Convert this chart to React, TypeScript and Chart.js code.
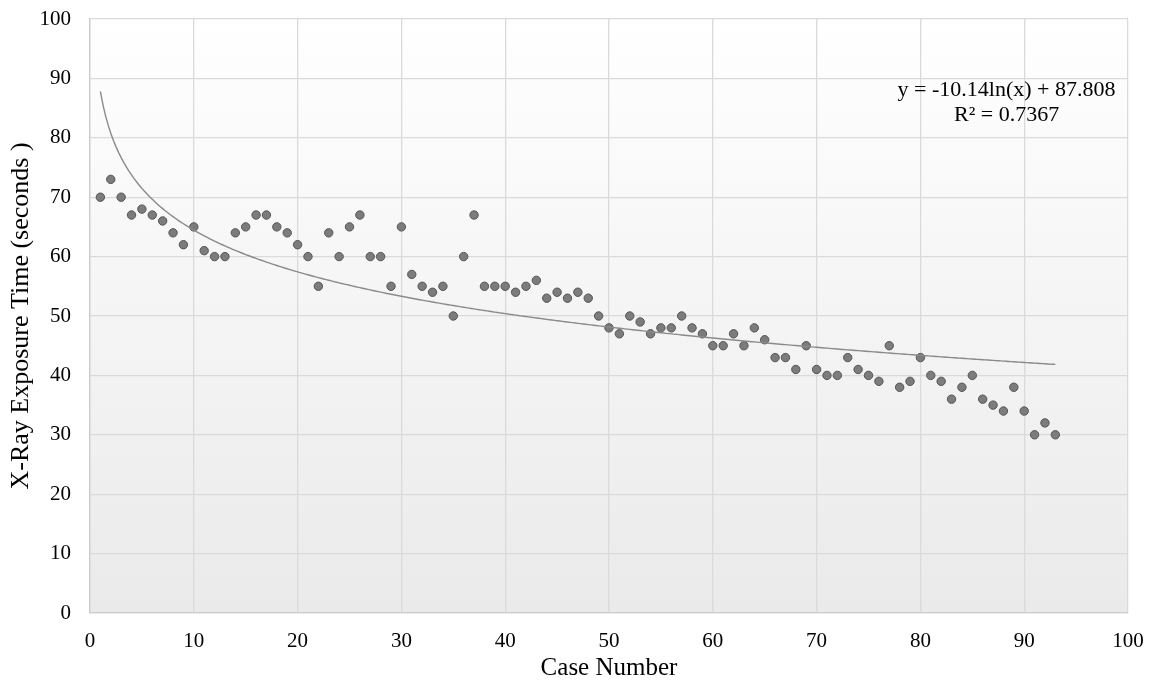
import React, { useEffect, useRef } from "react";
import { Chart, registerables } from "chart.js";

Chart.register(...registerables);

const caseNumbers: number[] = [
  1, 2, 3, 4, 5, 6, 7, 8, 9, 10, 11, 12, 13, 14, 15, 16, 17, 18, 19, 20,
  21, 22, 23, 24, 25, 26, 27, 28, 29, 30, 31, 32, 33, 34, 35, 36, 37, 38, 39, 40,
  41, 42, 43, 44, 45, 46, 47, 48, 49, 50, 51, 52, 53, 54, 55, 56, 57, 58, 59, 60,
  61, 62, 63, 64, 65, 66, 67, 68, 69, 70, 71, 72, 73, 74, 75, 76, 77, 78, 79, 80,
  81, 82, 83, 84, 85, 86, 87, 88, 89, 90, 91, 92, 93,
];

const exposureTimes: number[] = [
  70, 73, 70, 67, 68, 67, 66, 64, 62, 65, 61, 60, 60, 64, 65, 67, 67, 65, 64, 62,
  60, 55, 64, 60, 65, 67, 60, 60, 55, 65, 57, 55, 54, 55, 50, 60, 67, 55, 55, 55,
  54, 55, 56, 53, 54, 53, 54, 53, 50, 48, 47, 50, 49, 47, 48, 48, 50, 48, 47, 45,
  45, 47, 45, 48, 46, 43, 43, 41, 45, 41, 40, 40, 43, 41, 40, 39, 45, 38, 39, 43,
  40, 39, 36, 38, 40, 36, 35, 34, 38, 34, 30, 32, 30,
];

// Trendline from the equation shown on the chart: y = -10.14 ln(x) + 87.808
const trendSlope = -10.14;
const trendIntercept = 87.808;
const trendStart = 1;
const trendEnd = 93;

const equationLines: string[] = ["y = -10.14ln(x) + 87.808", "R² = 0.7367"];

const xTitle = "Case Number";
const yTitle = "X-Ray Exposure Time (seconds )";

const FONT = "'Liberation Serif', 'Times New Roman', serif";

export default function App() {
  const ref = useRef<HTMLCanvasElement | null>(null);

  useEffect(() => {
    const canvas = ref.current;
    if (!canvas) return;

    const scatterData = caseNumbers.map((c, i) => ({ x: c, y: exposureTimes[i] }));
    const trendData: { x: number; y: number }[] = [];
    for (let x = trendStart; x <= trendEnd + 1e-9; x += 0.25) {
      trendData.push({ x, y: trendSlope * Math.log(x) + trendIntercept });
    }

    const bgPlugin = {
      id: "plotBg",
      beforeDraw(chart: any) {
        const { ctx, chartArea } = chart;
        const g = ctx.createLinearGradient(0, chartArea.top, 0, chartArea.bottom);
        g.addColorStop(0, "#ffffff");
        g.addColorStop(1, "#eaeaea");
        ctx.save();
        ctx.fillStyle = "#ffffff";
        ctx.fillRect(0, 0, chart.width, chart.height);
        ctx.fillStyle = g;
        ctx.fillRect(chartArea.left, chartArea.top, chartArea.right - chartArea.left, chartArea.bottom - chartArea.top);
        ctx.restore();
      },
    };

    const eqPlugin = {
      id: "equation",
      afterDraw(chart: any) {
        const { ctx, scales } = chart;
        const cx = scales.x.getPixelForValue(88.3);
        ctx.save();
        ctx.fillStyle = "#000000";
        ctx.font = `22px ${FONT}`;
        ctx.textAlign = "center";
        ctx.textBaseline = "middle";
        ctx.fillText(equationLines[0], cx, scales.y.getPixelForValue(88.0));
        ctx.fillText(equationLines[1], cx, scales.y.getPixelForValue(83.8));
        ctx.restore();
      },
    };

    const chart = new Chart(canvas, {
      type: "scatter",
      data: {
        datasets: [
          {
            type: "line",
            data: trendData,
            borderColor: "#8a8a8a",
            borderWidth: 1.4,
            pointRadius: 0,
            fill: false,
            tension: 0,
          } as any,
          {
            type: "scatter",
            data: scatterData,
            backgroundColor: "#7c7c7c",
            borderColor: "#555555",
            borderWidth: 1,
            pointRadius: 4.2,
          },
        ],
      },
      options: {
        animation: false,
        responsive: false,
        layout: { padding: { top: 19, right: 23, left: 0, bottom: 0 } },
        plugins: {
          legend: { display: false },
          tooltip: { enabled: false },
        },
        scales: {
          x: {
            type: "linear",
            min: 0,
            max: 100,
            ticks: {
              stepSize: 10,
              padding: 16,
              color: "#000000",
              font: { family: FONT, size: 21 },
              maxRotation: 0,
            },
            grid: { color: "#dadada", lineWidth: 1.3, drawTicks: false },
            border: { color: "#cccccc", width: 1.3 },
            title: {
              display: true,
              text: xTitle,
              color: "#000000",
              font: { family: FONT, size: 25 },
              padding: { top: 0, bottom: 3 },
            },
            afterFit(scale: any) {
              scale.height = 73;
              scale.paddingLeft = 0;
              scale.paddingRight = 0;
            },
          },
          y: {
            type: "linear",
            min: 0,
            max: 100,
            ticks: {
              stepSize: 10,
              padding: 19,
              color: "#000000",
              font: { family: FONT, size: 21 },
            },
            grid: { color: "#dadada", lineWidth: 1.3, drawTicks: false },
            border: { color: "#cccccc", width: 1.3 },
            title: {
              display: true,
              text: yTitle,
              color: "#000000",
              font: { family: FONT, size: 26 },
              padding: { top: 6, bottom: 0 },
            },
            afterFit(scale: any) {
              scale.width = 90;
              scale.paddingTop = 0;
              scale.paddingBottom = 0;
            },
          },
        },
      },
      plugins: [bgPlugin, eqPlugin],
    });

    return () => chart.destroy();
  }, []);

  return (
    <canvas
      ref={ref}
      width={1151}
      height={686}
      style={{ position: "fixed", left: 0, top: 0, width: 1151, height: 686, display: "block" }}
    />
  );
}
